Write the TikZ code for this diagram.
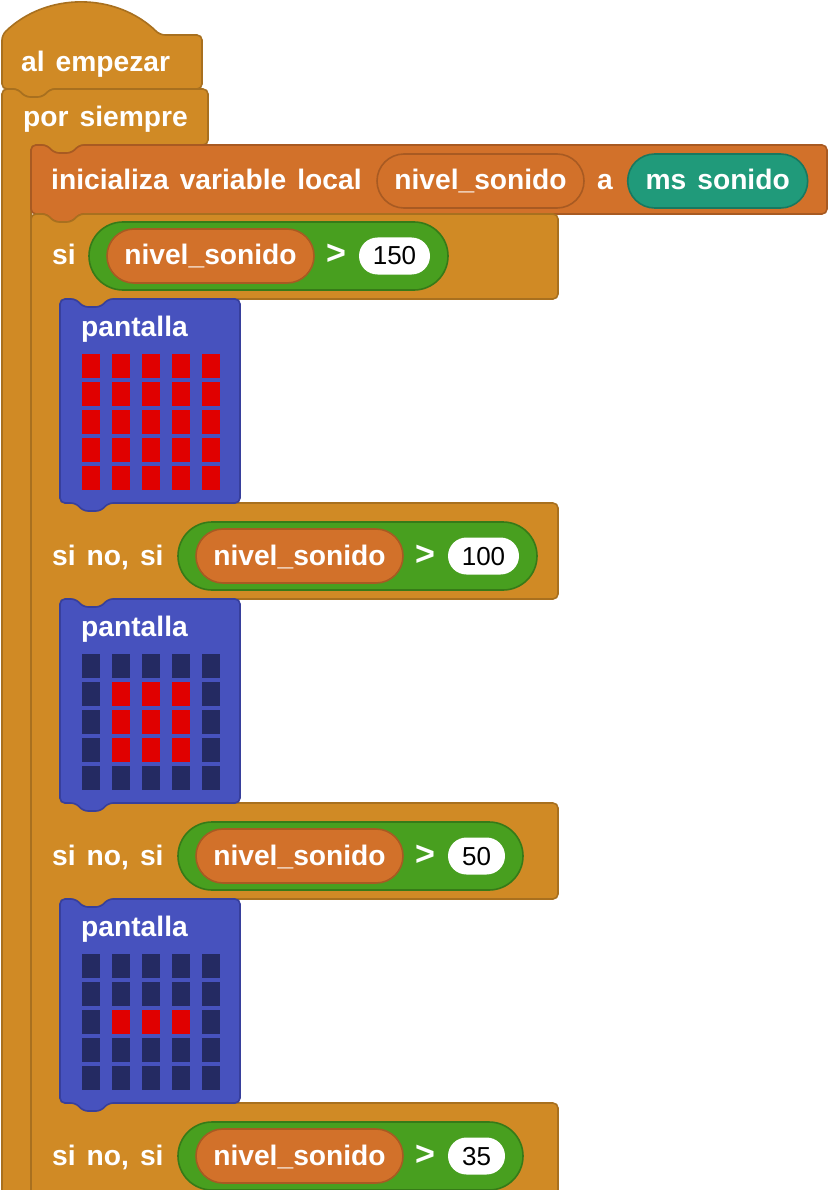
\documentclass[tikz,border=0pt]{standalone}
\usepackage{fontspec}
\setmainfont{Liberation Sans}
\usepackage{tikz}
\usetikzlibrary{positioning}
\usepackage{xcolor}

\definecolor{eventgold}{HTML}{D08A25}
\definecolor{eventedge}{HTML}{A8701F}
\definecolor{varorange}{HTML}{D2712A}
\definecolor{varedge}{HTML}{A85A22}
\definecolor{logicgreen}{HTML}{489F1F}
\definecolor{logicedge}{HTML}{367A18}
\definecolor{inputteal}{HTML}{209A7A}
\definecolor{inputedge}{HTML}{187860}
\definecolor{screenblue}{HTML}{4752BE}
\definecolor{screenedge}{HTML}{373F9C}
\definecolor{ledoff}{HTML}{242A62}
\definecolor{ledon}{HTML}{E00000}

% notch on top of a block, drawn left to right
\newcommand{\notchat}[2]{-- ({#1+16},{#2}) -- ({#1+23},{#2+8}) -- ({#1+41},{#2+8}) -- ({#1+48},{#2})}
% tab under a block, drawn right to left
\newcommand{\tabat}[2]{-- ({#1+48},{#2}) -- ({#1+41},{#2+8}) -- ({#1+23},{#2+8}) -- ({#1+16},{#2})}

\begin{document}
\begin{tikzpicture}[x=1pt, y=-1pt,
    evt/.style={fill=eventgold, draw=eventedge, line width=1.6pt, rounded corners=5pt, line join=round},
    var/.style={fill=varorange, draw=varedge, line width=1.6pt, rounded corners=5pt, line join=round},
    disp/.style={fill=screenblue, draw=screenedge, line width=1.6pt, rounded corners=5pt, line join=round},
    blockfont/.style={font={\fontsize{28.2}{34}\selectfont\bfseries\spaceskip=11pt\relax}},
    lbl/.style={blockfont, text=white, anchor=west, inner sep=0pt, text height=20pt, text depth=2pt},
    pill/.style={blockfont, text=white, inner sep=0pt, text height=20pt, text depth=2pt, line width=1.6pt},
    varpill/.style={pill, fill=varorange, draw=varedge, minimum height=54pt, minimum width=207pt, rounded corners=27pt},
    cond/.style={pill, fill=logicgreen, draw=logicedge, minimum height=68pt, rounded corners=34pt},
    sensor/.style={pill, fill=inputteal, draw=inputedge, minimum height=54pt, minimum width=180pt, rounded corners=27pt},
    compare/.style={lbl, font={\fontsize{34}{40}\selectfont\bfseries}},
    numpill/.style={fill=white, inner sep=0pt, minimum height=37pt, rounded corners=18.5pt,
      font={\fontsize{26}{30}\selectfont}, text height=19pt, text depth=1pt}]
  \useasboundingbox (0,0) rectangle (829,1190);
  \clip (0,0) rectangle (829,1190);

  % al empezar
  \draw[evt] (2,89) -- (2,35) .. controls (46,-8) and (116,-8) .. (160,35) -- (202,35) -- (202,89) \tabat{2}{89} -- cycle;
  \node[lbl] (start) at (21,63) {al empezar};

  % por siempre
  \draw[evt] (2,89) \notchat{2}{89} -- (208,89) -- (208,145) \tabat{31}{145} -- (31,145) -- (31,1200) -- (2,1200) -- cycle;
  \node[lbl] (forever) at (23,118) {por siempre};

  % inicializa variable local
  \draw[var] (31,145) \notchat{31}{145} -- (827,145) -- (827,214) \tabat{31}{214} -- (31,214) -- cycle;
  \node[lbl] (init) at (51,181) {inicializa variable local};
  \node[varpill] (initvar) at (480.5,181) {nivel\_sonido};
  \node[lbl, right=12pt of initvar] (to) {a};
  \node[sensor, right=14pt of to, anchor=west] (sound) {ms sonido};

  % si / si no, si
  \draw[evt] (31,214) \notchat{31}{214} -- (558,214) -- (558,299) \tabat{60}{299} -- (60,299) -- (60,503)
    -- (558,503) -- (558,599) \tabat{60}{599} -- (60,599) -- (60,803)
    -- (558,803) -- (558,899) \tabat{60}{899} -- (60,899) -- (60,1103)
    -- (558,1103) -- (558,1200) -- (31,1200) -- cycle;

  \foreach \k/\xg/\num/\wnum/\txt in {0/89/150/71/si, 1/178/100/71/{si no, si}, 2/178/50/57/{si no, si}, 3/178/35/57/{si no, si}} {
    \node[lbl] (head\k) at (52,{256+300*\k}) {\txt};
    \node[cond, minimum width={288+\wnum}] (cond\k) at ({\xg+(288+\wnum)/2},{256+300*\k}) {};
    \node[varpill] (var\k) at ({\xg+121.5},{256+300*\k}) {nivel\_sonido};
    \node[compare, right=11pt of var\k] (gt\k) {>};
    \node[numpill, minimum width=\wnum, right=44pt of var\k, anchor=west] (num\k) {\num};
  }

  % pantalla
  \foreach \ytop in {299,599,899} {
    \draw[disp] (60,\ytop) \notchat{60}{\ytop} -- (240,\ytop) -- (240,{\ytop+204}) \tabat{60}{\ytop+204} -- (60,{\ytop+204}) -- cycle;
    \node[lbl] (screen\ytop) at (81,{\ytop+28}) {pantalla};
    \foreach \c in {0,...,4}
      \foreach \r in {0,...,4}
        \fill[ledoff] ({82+30*\c},{\ytop+55+28*\r}) rectangle +(18,24);
  }
  \foreach \ytop/\cmin/\cmax/\rmin/\rmax in {299/0/4/0/4, 599/1/3/1/3, 899/1/3/2/2}
    \foreach \c in {\cmin,...,\cmax}
      \foreach \r in {\rmin,...,\rmax}
        \fill[ledon] ({82+30*\c},{\ytop+55+28*\r}) rectangle +(18,24);
\end{tikzpicture}
\end{document}
